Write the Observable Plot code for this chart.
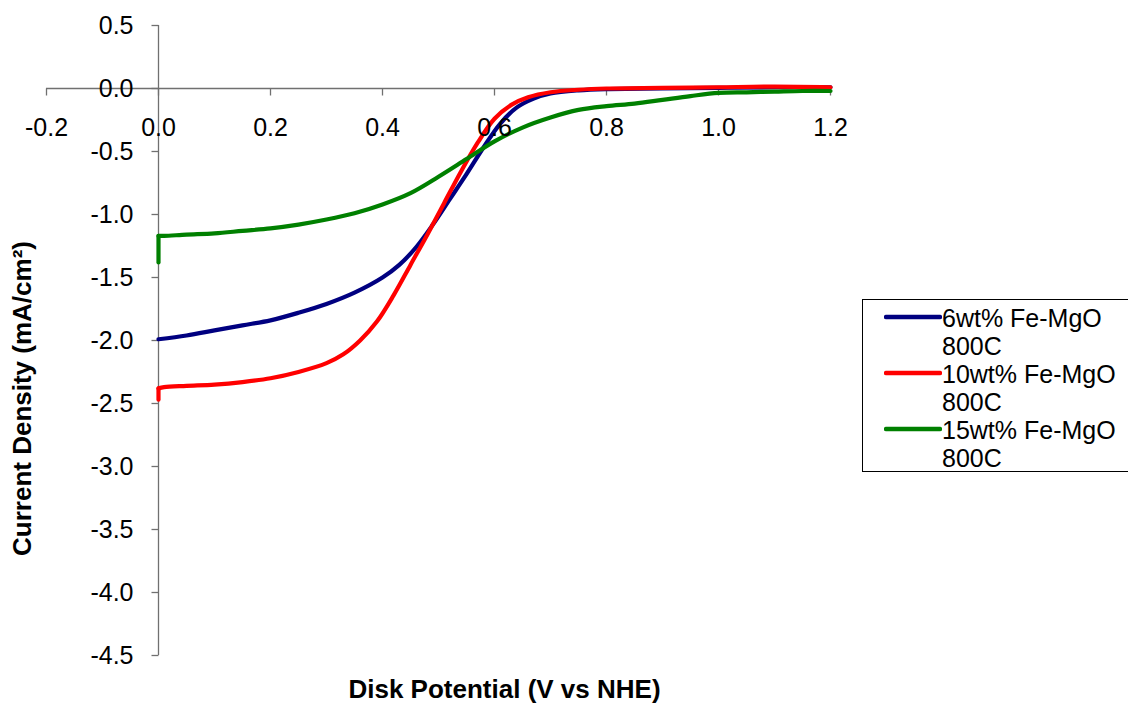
<!DOCTYPE html>
<html><head><meta charset="utf-8">
<script src="https://cdn.jsdelivr.net/npm/d3@7"></script>
<script src="https://cdn.jsdelivr.net/npm/@observablehq/plot@0.6"></script>
<style>
html,body{margin:0;padding:0;background:#fff;overflow:hidden}
#wrap{position:relative;width:1128px;height:703px;font-family:"Liberation Sans",Arial,sans-serif}
#legend{position:absolute;left:862px;top:299px;width:290px;height:173px;border:1px solid #000;box-sizing:border-box;background:#fff;padding-top:4px}
.item{position:relative;height:56px}
.item svg{position:absolute;left:21px;top:8px}
.item .lab{position:absolute;left:79px;top:0;font-size:25px;line-height:28px;color:#000;white-space:nowrap}
</style></head>
<body><div id="wrap"><div id="chart"></div><div id="legend"></div></div>
<script>
// ---- data ----
const xTitle = "Disk Potential (V vs NHE)";
const yTitle = "Current Density (mA/cm\u00B2)";
const xTicks = [-0.2, 0.0, 0.2, 0.4, 0.6, 0.8, 1.0, 1.2];
const yTicks = [0.5, 0.0, -0.5, -1.0, -1.5, -2.0, -2.5, -3.0, -3.5, -4.0, -4.5];
const seriesNames = ["6wt% Fe-MgO\n800C", "10wt% Fe-MgO\n800C", "15wt% Fe-MgO\n800C"];
const seriesColors = ["#000080", "#ff0000", "#008000"];

const potential6 = [0, 0.05, 0.1, 0.15, 0.2, 0.25, 0.3, 0.35, 0.4, 0.43, 0.46, 0.49, 0.52, 0.55, 0.58, 0.61, 0.64, 0.67, 0.7, 0.75, 0.8, 0.9, 1.0, 1.1, 1.2];
const current6 = [-1.99, -1.96, -1.92, -1.88, -1.84, -1.78, -1.71, -1.62, -1.50, -1.40, -1.26, -1.08, -0.88, -0.68, -0.47, -0.28, -0.15, -0.08, -0.04, -0.015, -0.005, 0.0, 0.005, 0.01, 0.01];

const potential10 = [0, 0, 0.01, 0.05, 0.1, 0.15, 0.2, 0.25, 0.3, 0.33, 0.36, 0.39, 0.42, 0.45, 0.48, 0.51, 0.54, 0.57, 0.6, 0.63, 0.66, 0.7, 0.75, 0.8, 0.9, 1.0, 1.1, 1.2];
const current10 = [-2.47, -2.38, -2.37, -2.36, -2.35, -2.33, -2.30, -2.25, -2.18, -2.11, -2.00, -1.85, -1.64, -1.40, -1.16, -0.91, -0.66, -0.43, -0.24, -0.13, -0.07, -0.03, -0.01, 0.0, 0.005, 0.01, 0.015, 0.01];

const potential15 = [0, 0, 0.01, 0.05, 0.1, 0.15, 0.2, 0.25, 0.3, 0.35, 0.4, 0.45, 0.5, 0.55, 0.6, 0.65, 0.7, 0.75, 0.8, 0.85, 0.9, 0.95, 1.0, 1.05, 1.1, 1.15, 1.2];
const current15 = [-1.38, -1.17, -1.17, -1.16, -1.15, -1.13, -1.11, -1.08, -1.04, -0.99, -0.92, -0.83, -0.70, -0.56, -0.42, -0.31, -0.23, -0.17, -0.14, -0.12, -0.09, -0.06, -0.035, -0.03, -0.025, -0.02, -0.02];

// ---- build ----
// split an initial vertical spike (repeated x) into its own straight segment
function toSegments(xs, ys) {
  const rows = [];
  let start = 0;
  while (start + 1 < xs.length && xs[start + 1] === xs[start]) start++;
  for (let i = 0; i <= start && start > 0; i++) rows.push({v: xs[i], j: ys[i], seg: "spike"});
  for (let i = start; i < xs.length; i++) rows.push({v: xs[i], j: ys[i], seg: "main"});
  return rows;
}
const series = [toSegments(potential6, current6), toSegments(potential10, current10), toSegments(potential15, current15)];

const tickDown = {draw(ctx) { ctx.moveTo(0, 0); ctx.lineTo(0, 7); }};
const tickLeft = {draw(ctx) { ctx.moveTo(-7, 0); ctx.lineTo(0, 0); }};
const axisColor = "#707070";
const fmt = d => d.toFixed(1);

const chart = Plot.plot({
  width: 1128, height: 703,
  marginLeft: 46, marginRight: 298, marginTop: 25, marginBottom: 48,
  x: {domain: [xTicks[0], xTicks[xTicks.length - 1]], axis: null},
  y: {domain: [yTicks[yTicks.length - 1], yTicks[0]], axis: null},
  style: {fontFamily: '"Liberation Sans", Arial, sans-serif', fontSize: "25px", background: "white", color: "black"},
  marks: [
    Plot.ruleY([0], {x1: xTicks[0], x2: xTicks[xTicks.length - 1], stroke: axisColor, strokeWidth: 1.3}),
    Plot.ruleX([0], {y1: yTicks[yTicks.length - 1], y2: yTicks[0], stroke: axisColor, strokeWidth: 1.3}),
    Plot.dot(xTicks, {x: d => d, y: () => 0, symbol: tickDown, stroke: axisColor, fill: "none", strokeWidth: 1.3}),
    Plot.dot(yTicks, {x: () => 0, y: d => d, symbol: tickLeft, stroke: axisColor, fill: "none", strokeWidth: 1.3}),
    ...series.flatMap((rows, k) => [
      Plot.line(rows.filter(r => r.seg === "spike"), {x: "v", y: "j", stroke: seriesColors[k], strokeWidth: 4.2, strokeLinecap: "round"}),
      Plot.line(rows.filter(r => r.seg === "main"), {x: "v", y: "j", stroke: seriesColors[k], strokeWidth: 4.2, curve: "catmull-rom"})
    ]),
    Plot.text(xTicks, {x: d => d, y: () => 0, text: fmt, dy: 39, fontSize: 25, fill: "black"}),
    Plot.text(yTicks, {x: () => 0, y: d => d, text: fmt, textAnchor: "end", dx: -25, fontSize: 25, fill: "black"}),
    Plot.text([xTitle], {frameAnchor: "bottom", text: d => d, lineAnchor: "middle", dx: 66, dy: 34, fontSize: 26, fontWeight: "bold", fill: "black"}),
    Plot.text([yTitle], {frameAnchor: "left", text: d => d, textAnchor: "middle", lineAnchor: "middle", rotate: -90, dx: -24, dy: 58, fontSize: 26, fontWeight: "bold", fill: "black"})
  ]
});
document.getElementById("chart").appendChild(chart);

const legend = document.getElementById("legend");
seriesNames.forEach((name, k) => {
  const item = document.createElement("div");
  item.className = "item";
  item.innerHTML = `<svg width="58" height="10"><line x1="2" y1="5" x2="56" y2="5" stroke="${seriesColors[k]}" stroke-width="4.5" stroke-linecap="round"/></svg>` +
    `<div class="lab">${name.replace("\n", "<br>")}</div>`;
  legend.appendChild(item);
});
</script></body></html>
